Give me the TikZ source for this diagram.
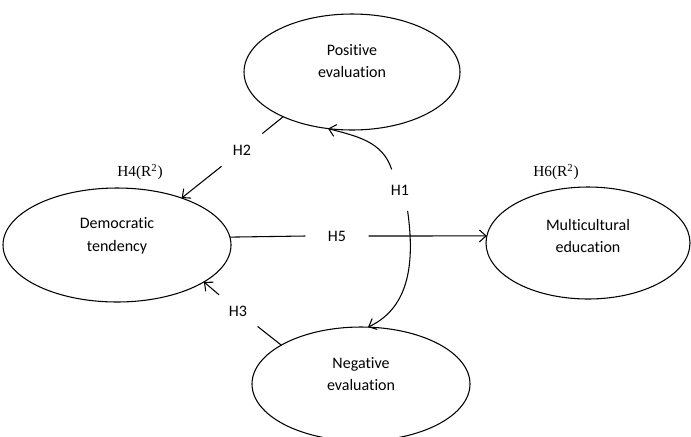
\documentclass[tikz,border=0pt]{standalone}
\usepackage{fontspec}
\setmainfont{Carlito}[Ligatures=NoCommon]
\newfontfamily\serifr{Liberation Serif}
\usetikzlibrary{arrows.meta,shapes.geometric}
\begin{document}
\begin{tikzpicture}[x=0.75pt,y=-0.75pt,
  ell/.style={draw,ellipse,line width=0.8pt,inner sep=0pt,outer sep=0pt},
  txt/.style={align=center,font=\fontsize{12}{17}\selectfont},
  hlab/.style={circle,inner sep=0pt,font=\fontsize{12}{14}\selectfont},
  rlab/.style={font=\serifr\fontsize{11.5}{14}\selectfont},
  conn/.style={line width=0.8pt},
  arr/.style={conn,-{Straight Barb[length=5pt,width=9pt,line width=0.8pt]}}]
\useasboundingbox (0,0) rectangle (691,436);
% ellipses
\node[ell,minimum width=162pt,minimum height=87pt] (pos) at (352,72) {};
\node[txt] (post) at (352,61) {Positive\\evaluation};
\node[ell,minimum width=171pt,minimum height=85.5pt] (dem) at (117,245) {};
\node[txt] (demt) at (117,236) {Democratic\\tendency};
\node[ell,minimum width=153pt,minimum height=84pt] (mul) at (588,243) {};
\node[txt] (mult) at (588,236) {Multicultural\\education};
\node[ell,minimum width=163.5pt,minimum height=85.5pt] (neg) at (361,384) {};
\node[txt] (negt) at (361,374) {Negative\\evaluation};
% R^2 labels
\node[rlab] (r4) at (140,172) {H4(R\textsuperscript{2})};
\node[rlab] (r6) at (556,172) {H6(R\textsuperscript{2})};
% hypothesis labels (gap makers)
\node[hlab,minimum size=39pt] (h2) at (242,150) {H2};
\node[hlab,minimum size=37pt] (h3) at (238,311) {H3};
\node[hlab,minimum size=47pt] (h5) at (337,236) {H5};
\node[hlab,minimum size=33pt] (h1) at (400,190) {H1};
% connectors
\draw[conn] (pos.213) -- (h2);
\draw[arr] (h2) -- (dem.36);
\draw[conn] (neg.154) -- (h3);
\draw[arr] (h3) -- (dem.-23);
\draw[conn] (dem.4.6) -- (h5.180);
\draw[arr] (h5.0) -- (mul.176);
\draw[arr] (h1.112) to[out=108,in=-15] (pos.247);
\draw[arr] (h1.-70) to[out=-82,in=25] (neg.83);
\end{tikzpicture}
\end{document}
